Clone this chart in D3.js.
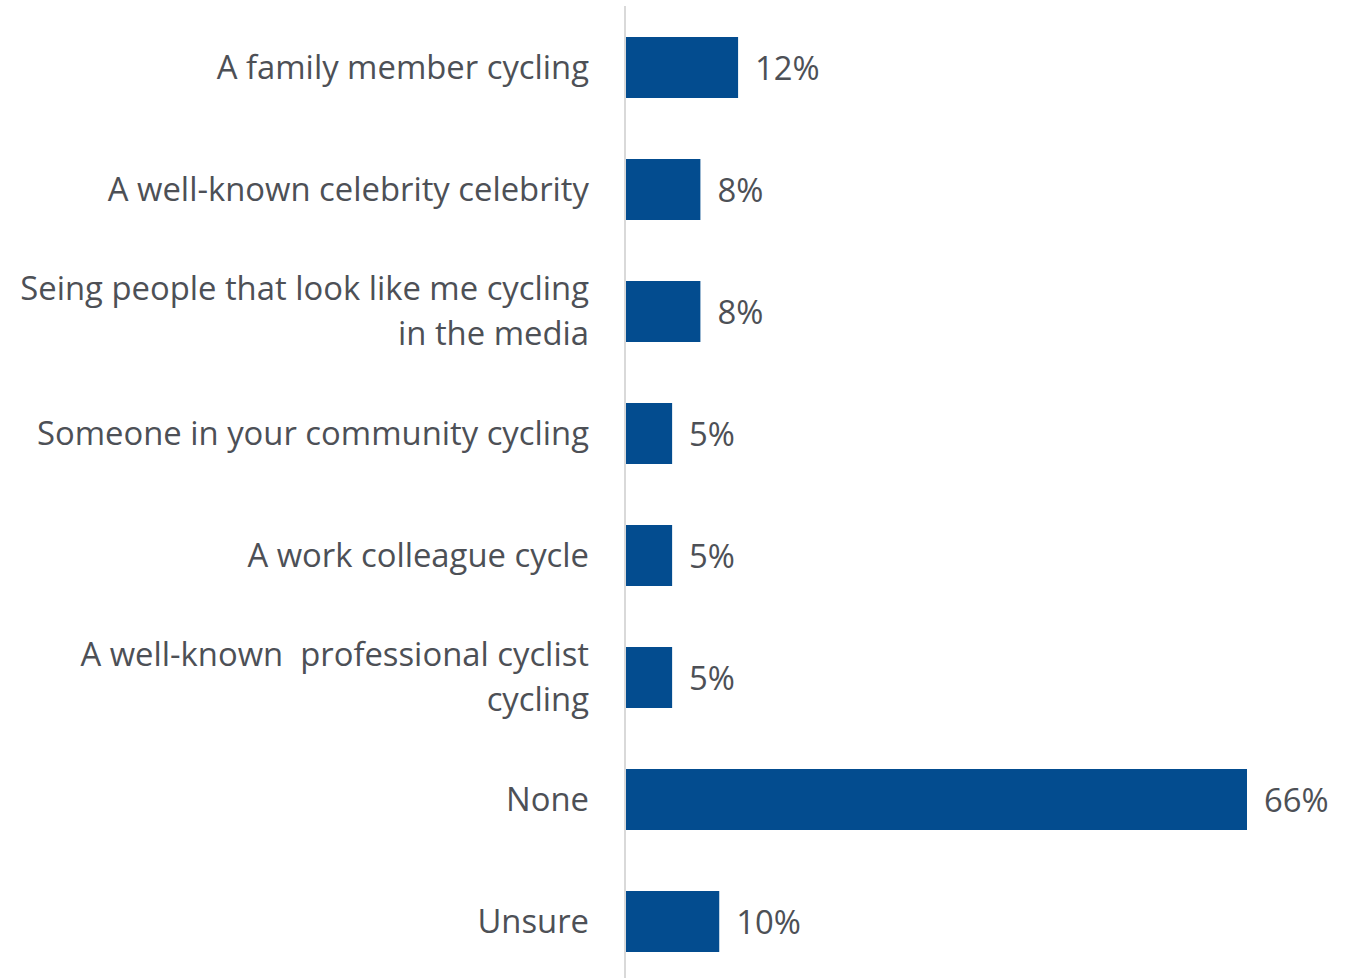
<!DOCTYPE html>
<html>
<head>
<meta charset="utf-8">
<script src="https://cdn.jsdelivr.net/npm/d3@7"></script>
<style>
  html, body { margin: 0; padding: 0; background: #ffffff; }
  svg { display: block; }
  text { font-family: "Open Sans", "Noto Sans", sans-serif; fill: #4d5056; white-space: pre; }
</style>
</head>
<body>
<svg id="chart" width="1352" height="978"></svg>
<script>
// Categories (each entry is the lines of a wrapped label)
const categories = [
  ["A family member cycling"],
  ["A well-known celebrity celebrity"],
  ["Seing people that look like me cycling", "in the media"],
  ["Someone in your community cycling"],
  ["A work colleague cycle"],
  ["A well-known  professional cyclist", "cycling"],
  ["None"],
  ["Unsure"]
];
// Share of respondents, percent
const values = [12, 8, 8, 5, 5, 5, 66, 10];

const svg = d3.select("#chart");
const axisX = 625;
const fontSize = 32.8;
const lineGap = 45;
const baselineShift = 11;

const x = d3.scaleLinear().domain([0, 66]).range([axisX, 1247]);
const y = d3.scaleBand()
  .domain(d3.range(categories.length))
  .range([6.5, 982.5])
  .paddingInner(0.5)
  .paddingOuter(0.25);

// Bars
svg.append("g").selectAll("rect")
  .data(values)
  .join("rect")
  .attr("x", x(0))
  .attr("y", (d, i) => y(i))
  .attr("width", d => x(d) - x(0))
  .attr("height", y.bandwidth())
  .attr("fill", "#034C8F");

// Category axis line
svg.append("line")
  .attr("x1", axisX).attr("x2", axisX)
  .attr("y1", 6).attr("y2", 978)
  .attr("stroke", "#d9d9d9")
  .attr("stroke-width", 2);

// Category labels
const labels = svg.append("g").selectAll("text")
  .data(categories)
  .join("text")
  .attr("text-anchor", "end")
  .attr("font-size", fontSize);

labels.each(function(lines, i) {
  const cy = y(i) + y.bandwidth() / 2;
  const start = cy - (lines.length - 1) * lineGap / 2;
  d3.select(this).selectAll("tspan")
    .data(lines)
    .join("tspan")
    .attr("x", 589)
    .attr("y", (d, j) => start + j * lineGap + baselineShift)
    .text(d => d);
});

// Value labels
svg.append("g").selectAll("text")
  .data(values)
  .join("text")
  .attr("x", d => x(d) + 17)
  .attr("y", (d, i) => y(i) + y.bandwidth() / 2 + baselineShift + 1)
  .attr("font-size", fontSize)
  .text(d => d + "%");
</script>
</body>
</html>
